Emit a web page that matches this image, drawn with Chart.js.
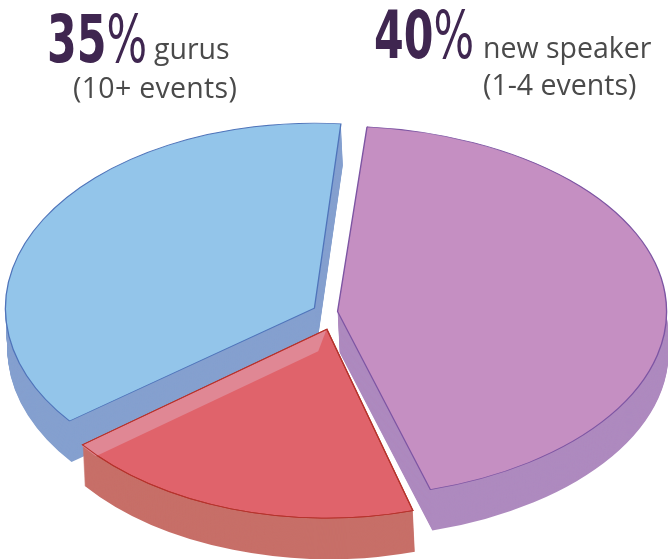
<!DOCTYPE html>
<html>
<head>
<meta charset="utf-8">
<title>Speakers</title>
<script src="https://cdn.jsdelivr.net/npm/chart.js@4"></script>
<style>
  html, body { margin: 0; background: #fff; overflow: hidden; }
  #wrap { position: relative; width: 668px; height: 559px; }
  canvas { position: absolute; left: 0; top: 0; }
  .big, .small { position: absolute; white-space: nowrap; line-height: 1; }
  .big { font-family: "DejaVu Sans Condensed", "DejaVu Sans", sans-serif; font-weight: bold; font-size: 66px; color: #3f2650; transform-origin: left top; transform: scaleX(0.72); }
  .big i { font-style: normal; font-weight: normal; }
  .small { font-family: "Open Sans", sans-serif; font-size: 28.5px; color: #4a4a4a; }
</style>
</head>
<body>
<div id="wrap">
  <canvas id="pieChart" width="668" height="559"></canvas>
  <span class="big" style="left:47px;top:7px">35<i>%</i></span>
  <span class="small" style="left:154px;top:34px">gurus</span>
  <span class="small" style="left:73px;top:73px;letter-spacing:0.3px">(10+ events)</span>
  <span class="big" style="left:374px;top:3px">40<i>%</i></span>
  <span class="small" style="left:483px;top:33px">new speaker</span>
  <span class="small" style="left:483px;top:70px">(1-4 events)</span>
</div>
<script>
// datos: proporcion dibujada de cada porcion
const sliceLabels = ["new speaker", "", "gurus"];
const sliceValues = [44.1, 19.05, 36.85];

// estilos por porcion
const topColors = ["#c58fc2", "#e0636b", "#93c5ea"];
const wallColors = ["#ae8abf", "#c76f68", "#85a0cf"];
const edgeColors = ["#7d55a3", "#b5332c", "#4f74ba"];
const sliceOffsets = [22, 90, 30];
const sliceRx = [329, 309, 309];
const sliceRy = [185.5, 189, 185];
const nudgeX = [5, 11, -2];
const nudgeY = [1, 1, 0];
const drawOrder = [2, 0, 1];

// vista 3D
const view = { cx: 325, cy: 311, depth: 41, lean: 2 };
const stripSlice = 1;
const stripShift = { x: -8, y: 21 };
const stripColor = "#e08794";

function offsetFix(arc) {
  return 1 - Math.sin(Math.min(Math.PI, arc.circumference || 0));
}

// Chart.js agranda el radio con el offset al dibujar
function drawnRadius(arc) {
  return arc.outerRadius + ((arc.options.offset || 0) / 4) * offsetFix(arc);
}

function sliceShift(arc) {
  const half = (arc.startAngle + arc.endAngle) / 2;
  const total = ((arc.options.offset || 0) / 4) * (1 + offsetFix(arc));
  return { x: Math.cos(half) * total, y: Math.sin(half) * total };
}

function withOptions(arc, extra, ctx) {
  const saved = arc.options;
  arc.options = Object.assign({}, saved, extra);
  arc.draw(ctx);
  arc.options = saved;
}

const pie3d = {
  id: "pie3d",
  beforeDatasetsDraw(chart) {
    const ctx = chart.ctx;
    const arcs = chart.getDatasetMeta(0).data;

    drawOrder.forEach((i) => {
      const arc = arcs[i];
      const radius = drawnRadius(arc);
      const sx = sliceRx[i] / radius;
      const sy = sliceRy[i] / radius;
      const place = (downX, downY) => {
        ctx.translate(view.cx + nudgeX[i] + downX, view.cy + nudgeY[i] + downY);
        ctx.scale(sx, sy);
        ctx.translate(-arc.x, -arc.y);
      };

      // pared: la misma porcion repetida hacia abajo
      for (let d = view.depth; d > 0; d--) {
        ctx.save();
        place((view.lean * d) / view.depth, d);
        withOptions(arc, { backgroundColor: wallColors[i], borderWidth: 0 }, ctx);
        ctx.restore();
      }

      // cara superior
      ctx.save();
      place(0, 0);
      withOptions(arc, { backgroundColor: topColors[i], borderColor: edgeColors[i] }, ctx);

      if (i === stripSlice) {
        // franja clara de la porcion roja
        const s = sliceShift(arc);
        const endX = arc.x + Math.cos(arc.endAngle) * radius;
        const endY = arc.y + Math.sin(arc.endAngle) * radius;
        const ox = stripShift.x / sx;
        const oy = stripShift.y / sy;
        ctx.save();
        ctx.translate(s.x, s.y);
        ctx.beginPath();
        ctx.moveTo(arc.x, arc.y);
        ctx.arc(arc.x, arc.y, radius, arc.startAngle, arc.endAngle);
        ctx.closePath();
        ctx.clip();
        ctx.beginPath();
        ctx.moveTo(arc.x, arc.y);
        ctx.lineTo(endX, endY);
        ctx.lineTo(endX + ox, endY + oy);
        ctx.lineTo(arc.x + ox, arc.y + oy);
        ctx.closePath();
        ctx.fillStyle = stripColor;
        ctx.fill();
        ctx.restore();
        withOptions(arc, { backgroundColor: "rgba(0,0,0,0)", borderColor: edgeColors[i] }, ctx);
      }
      ctx.restore();
    });
    return false;
  }
};

new Chart(document.getElementById("pieChart"), {
  type: "pie",
  data: {
    labels: sliceLabels,
    datasets: [{
      data: sliceValues,
      backgroundColor: topColors,
      borderColor: edgeColors,
      borderWidth: 1,
      offset: sliceOffsets,
      borderJoinStyle: "miter"
    }]
  },
  options: {
    responsive: false,
    animation: false,
    rotation: 5,
    plugins: { legend: { display: false }, tooltip: { enabled: false } }
  },
  plugins: [pie3d]
});
</script>
</body>
</html>
